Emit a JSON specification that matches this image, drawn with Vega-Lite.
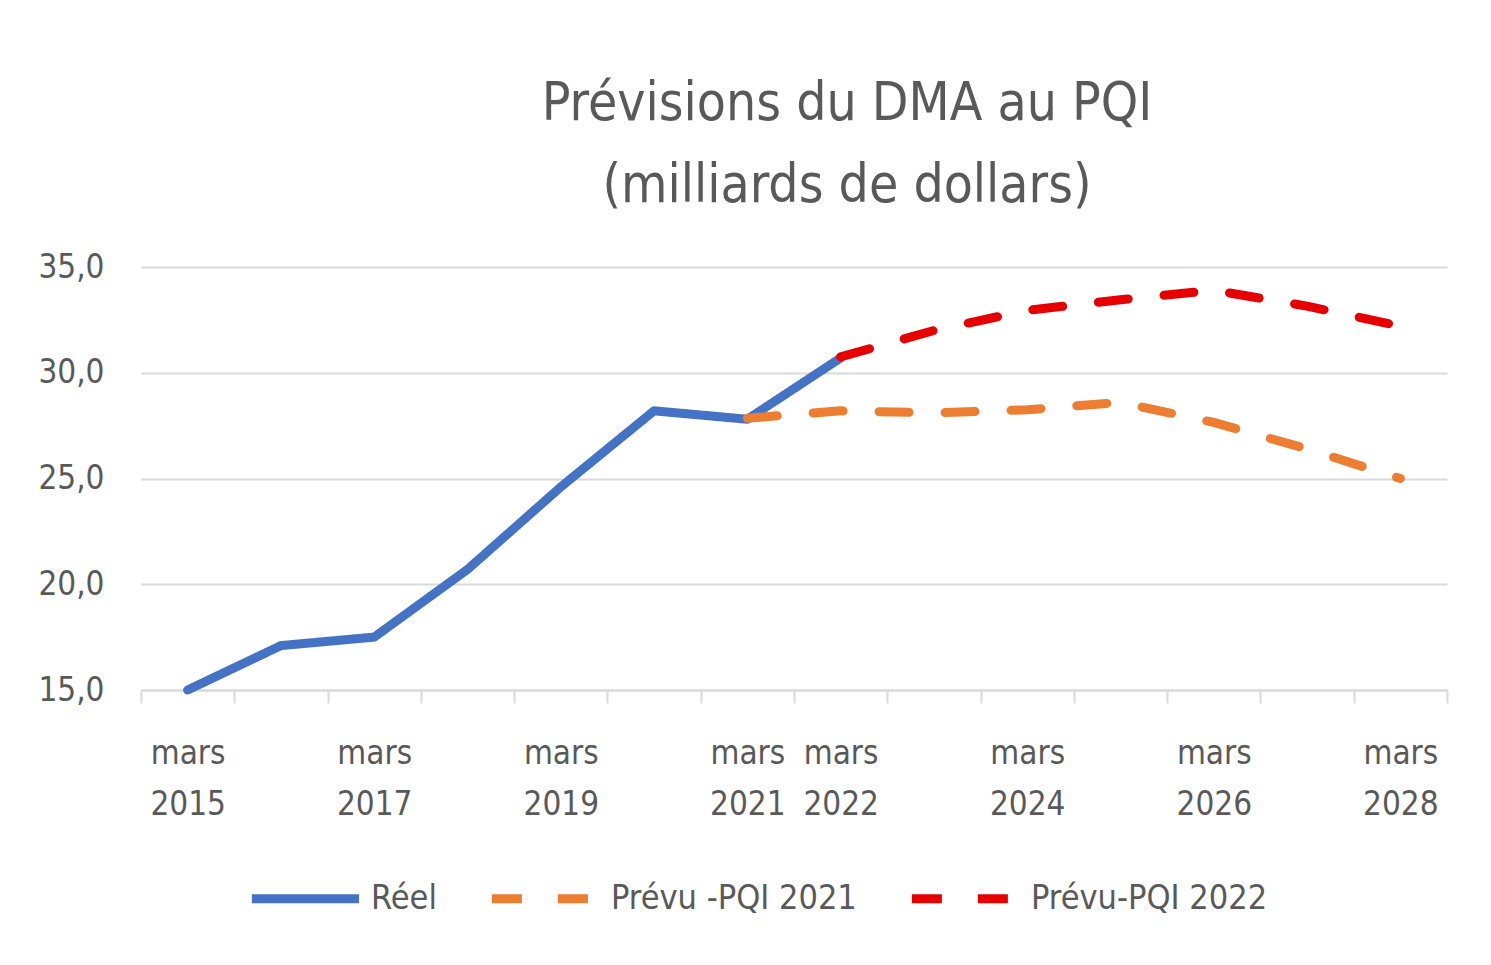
{
  "$schema": "https://vega.github.io/schema/vega-lite/v6.json",
  "autosize": {"type": "none"},
  "width": 1306,
  "height": 423,
  "padding": {"left": 141, "top": 267, "right": 44, "bottom": 275},
  "background": "white",
  "title": {
    "text": ["Prévisions du  DMA au PQI", "(milliards de dollars)"],
    "anchor": "middle",
    "dx": 53,
    "offset": 38,
    "font": "DejaVu Sans Condensed, sans-serif",
    "fontSize": 53,
    "fontWeight": "normal",
    "color": "#595959",
    "lineHeight": 82
  },
  "config": {
    "view": {"stroke": null},
    "font": "DejaVu Sans Condensed, sans-serif"
  },
  "data": {
    "values": [
      {"annee": 2015, "serie": "Réel", "valeur": 15.0},
      {"annee": 2016, "serie": "Réel", "valeur": 17.1},
      {"annee": 2017, "serie": "Réel", "valeur": 17.5},
      {"annee": 2018, "serie": "Réel", "valeur": 20.7},
      {"annee": 2019, "serie": "Réel", "valeur": 24.6},
      {"annee": 2020, "serie": "Réel", "valeur": 28.2},
      {"annee": 2021, "serie": "Réel", "valeur": 27.8},
      {"annee": 2022, "serie": "Réel", "valeur": 30.7},
      {"annee": 2021, "serie": "Prévu -PQI 2021", "valeur": 27.85},
      {"annee": 2022, "serie": "Prévu -PQI 2021", "valeur": 28.2},
      {"annee": 2023, "serie": "Prévu -PQI 2021", "valeur": 28.1},
      {"annee": 2024, "serie": "Prévu -PQI 2021", "valeur": 28.25},
      {"annee": 2025, "serie": "Prévu -PQI 2021", "valeur": 28.6},
      {"annee": 2026, "serie": "Prévu -PQI 2021", "valeur": 27.65},
      {"annee": 2027, "serie": "Prévu -PQI 2021", "valeur": 26.4},
      {"annee": 2028, "serie": "Prévu -PQI 2021", "valeur": 25.0},
      {"annee": 2022, "serie": "Prévu-PQI 2022", "valeur": 30.75},
      {"annee": 2023, "serie": "Prévu-PQI 2022", "valeur": 32.0},
      {"annee": 2024, "serie": "Prévu-PQI 2022", "valeur": 32.95},
      {"annee": 2025, "serie": "Prévu-PQI 2022", "valeur": 33.45},
      {"annee": 2026, "serie": "Prévu-PQI 2022", "valeur": 33.9},
      {"annee": 2027, "serie": "Prévu-PQI 2022", "valeur": 33.15},
      {"annee": 2028, "serie": "Prévu-PQI 2022", "valeur": 32.2}
    ]
  },
  "mark": {"type": "line", "strokeWidth": 9, "strokeCap": "round", "strokeJoin": "round"},
  "encoding": {
    "x": {
      "field": "annee",
      "type": "quantitative",
      "scale": {"domain": [2014.5, 2028.5], "nice": false, "zero": false},
      "axis": {
        "title": null,
        "grid": false,
        "values": [2014.5, 2015, 2015.5, 2016.5, 2017, 2017.5, 2018.5, 2019, 2019.5, 2020.5, 2021, 2021.5, 2022, 2022.5, 2023.5, 2024, 2024.5, 2025.5, 2026, 2026.5, 2027.5, 2028, 2028.5],
        "labelExpr": "datum.value % 1 != 0 ? '' : ['mars', format(datum.value, 'd')]",
        "labelOverlap": false,
        "labelFlush": false,
        "labelFontSize": 33,
        "labelColor": "#595959",
        "labelLineHeight": 51,
        "labelPadding": 34,
        "labelBaseline": "top",
        "domainColor": "#d9d9d9",
        "domainWidth": 2,
        "tickColor": "#d9d9d9",
        "tickWidth": 2,
        "tickSize": 13,
        "tickOpacity": {"condition": {"test": "datum.value % 1 == 0", "value": 0}, "value": 1}
      }
    },
    "y": {
      "field": "valeur",
      "type": "quantitative",
      "scale": {"domain": [15, 35], "nice": false, "zero": false},
      "axis": {
        "title": null,
        "values": [15, 20, 25, 30, 35],
        "labelExpr": "replace(format(datum.value, '.1f'), '.', ',')",
        "labelFontSize": 33,
        "labelColor": "#595959",
        "labelPadding": 37,
        "domain": false,
        "ticks": false,
        "gridColor": "#d9d9d9",
        "gridWidth": 2
      }
    },
    "color": {
      "field": "serie",
      "type": "nominal",
      "scale": {
        "domain": ["Réel", "Prévu -PQI 2021", "Prévu-PQI 2022"],
        "range": ["#4472C4", "#ED7D31", "#E60000"]
      },
      "legend": {
        "title": null,
        "orient": "none",
        "direction": "horizontal",
        "legendX": 106,
        "legendY": 573,
        "symbolType": "stroke",
        "symbolSize": 11500,
        "symbolStrokeWidth": 9,
        "labelFontSize": 34,
        "labelColor": "#595959",
        "labelOffset": 7,
        "columnPadding": 36,
        "labelLimit": 400
      }
    },
    "strokeDash": {
      "field": "serie",
      "type": "nominal",
      "scale": {
        "domain": ["Réel", "Prévu -PQI 2021", "Prévu-PQI 2022"],
        "range": [[1, 0], [30, 36], [30, 36]]
      },
      "legend": null
    }
  }
}
